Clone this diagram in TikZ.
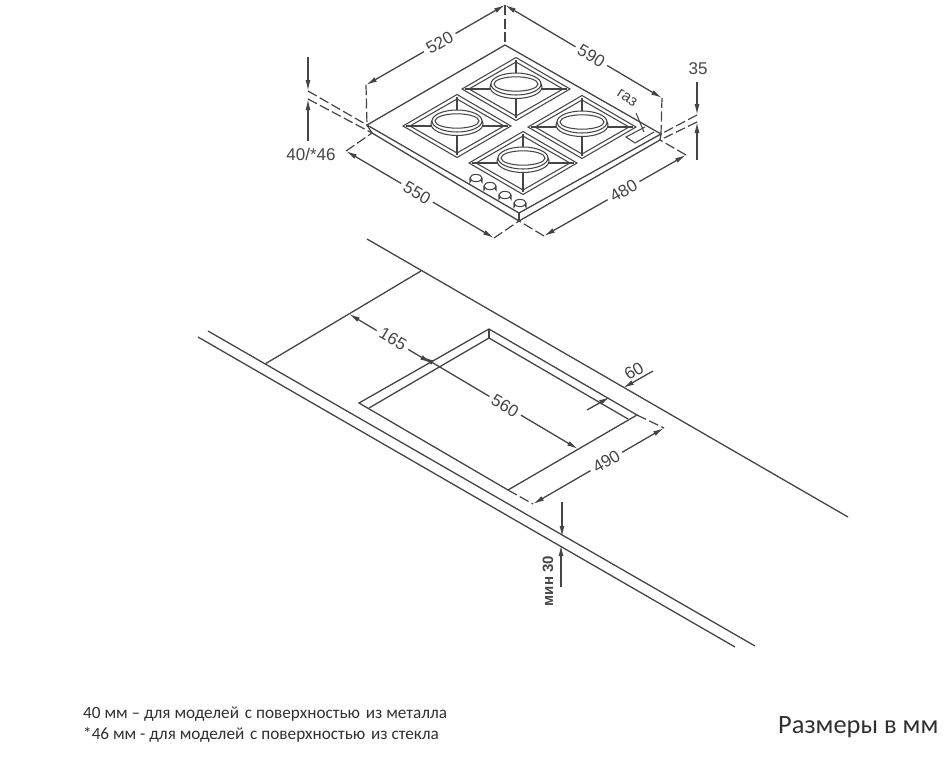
\documentclass[tikz,border=0pt]{standalone}
\usepackage{fontspec}
\setmainfont{Carlito}
\newfontfamily\arialf{Liberation Sans}
\usetikzlibrary{arrows.meta}
\definecolor{ink}{HTML}{454545}
\tikzset{
  line/.style={draw=ink,line width=1.3pt},
  thin line/.style={draw=ink,line width=1.05pt},
  dashline/.style={draw=ink,line width=1.2pt,dash pattern=on 10pt off 3.5pt},
  tipa/.tip={Latex[length=11pt,width=5pt]},
  dimboth/.style={line,tipa-tipa},
  dimend/.style={line,-tipa},
  lab/.style={text=ink,font=\arialf\fontsize{17}{17}\selectfont,inner sep=4pt,fill=white},
  bare/.style={text=ink,font=\arialf\fontsize{17}{17}\selectfont,inner sep=1pt},
  burner/.pic={
    \draw[thin line] (-54,0)--(0,-31.5)--(54,0)--(0,31.5)--cycle;
    \draw[thin line] (-47,0)--(0,-27)--(47,0)--(0,27)--cycle;
    \draw[thin line] (-51,0)--(51,0) (0,-29)--(0,29);
    \draw[thin line,fill=white] (0,-2) ellipse [x radius=26,y radius=11.5];
    \draw[thin line,fill=white] (0,-5) ellipse [x radius=25,y radius=11];
    \draw[thin line,fill=white] (0,-5) ellipse [x radius=22,y radius=7.2];
  },
  knob/.pic={
    \draw[thin line,fill=white] (-6,-2) -- (-6,2) arc[start angle=180,end angle=360,x radius=6,y radius=3.6] -- (6,-2);
    \draw[thin line,fill=white] (0,-2) ellipse [x radius=6,y radius=3.6];
  }
}
\begin{document}
\begin{tikzpicture}[x=1pt,y=-1pt]
\useasboundingbox (0,0) rectangle (950,779);
% hob corners
\coordinate (hT) at (505,45);
\coordinate (hL) at (367,125);
\coordinate (hR) at (661,134);
\coordinate (hB) at (519,213);
\coordinate (hLl) at (372,133);
\coordinate (hBl) at (519,221);
\coordinate (hRl) at (660,140);
% burners
\pic at (457,126) {burner};
\pic at (516,89) {burner};
\pic at (582,127) {burner};
\pic at (523,163) {burner};
% knobs
\pic at (476,180) {knob};
\pic at (490,188) {knob};
\pic at (505,197) {knob};
\pic at (520,205) {knob};
% hob outline
\draw[line] (hL)--(hT)--(hR)--(hB)--cycle;
\draw[line] (hL)--(hLl)--(hBl)--(hRl)--(hR);
\draw[line] (hB)--(hBl);
% gas socket
\coordinate (g1) at (645,127);
\coordinate (g2) at (626,137);
\coordinate (g3) at (635,143);
\coordinate (g4) at (654,132);
\draw[thin line] (g1)--(g2)--(g3)--(g4);
\coordinate (gl1) at (636,113);
\coordinate (gl2) at (644,132);
\draw[thin line] (gl1)--(gl2);
\node[bare,rotate=-33,font=\arialf\fontsize{15.5}{15.5}\selectfont] (gaz) at (627,98) {газ};
% dimension points
\coordinate (d520a) at (366,85);
\coordinate (dtop) at (505,5);
\coordinate (d590b) at (662,98);
\coordinate (d550a) at (346,151);
\coordinate (d550b) at (494,238);
\coordinate (d480a) at (544,236);
\coordinate (d480b) at (686,155);
\draw[dashline] (d520a)--(hL);
\draw[dashline] (dtop)--(hT);
\draw[dashline] (d590b)--(hR);
\draw[dashline] (d550a)--(hLl);
\draw[dashline] (d550b)--(hBl);
\draw[dashline] (d480a)--(hBl);
\draw[dashline] (d480b)--(hRl);
\draw[dimboth] (d520a)--(dtop) node[lab,sloped,pos=.53] {520};
\draw[dimboth] (dtop)--(d590b) node[lab,sloped,pos=.55] {590};
\draw[dimboth] (d550a)--(d550b) node[lab,sloped,pos=.48] {550};
\draw[dimboth] (d480a)--(d480b) node[lab,sloped,pos=.56] {480};
% left thickness 40/46
\coordinate (ta) at (308,57);
\coordinate (tb) at (308,91);
\coordinate (tc) at (308,99);
\coordinate (td) at (308,141);
\draw[dimend] (ta)--(tb);
\draw[dimend] (td)--(tc);
\draw[dashline] (tb)--(hL);
\draw[dashline] (tc)--(hLl);
\node[bare] (t40) at (311,154) {40/*46};
% right thickness 35
\coordinate (ra) at (697,82);
\coordinate (rb) at (697,115);
\coordinate (rc) at (697,122);
\coordinate (rd) at (697,160);
\draw[dimend] (ra)--(rb);
\draw[dimend] (rd)--(rc);
\draw[dashline] (rb)--(hR);
\draw[dashline] (rc)--(hRl);
\node[bare] (t35) at (698,69) {35};
% worktop
\coordinate (wa) at (367,239);
\coordinate (wb) at (848,517);
\coordinate (fa) at (208,331);
\coordinate (fb) at (755,646);
\coordinate (ga) at (198,337);
\coordinate (gb) at (735,647);
\coordinate (ca) at (265,364);
\coordinate (cb) at (421,271);
\draw[line] (wa)--(wb);
\draw[line] (fa)--(fb);
\draw[line] (ga)--(gb);
\draw[line] (ca)--(cb);
% cutout
\coordinate (oT) at (489,329);
\coordinate (oL) at (359,403);
\coordinate (oR) at (637,415);
\coordinate (oB) at (508,490);
\coordinate (iT) at (489,338);
\coordinate (iL) at (369,408);
\coordinate (iR) at (628,419);
\draw[line] (oL)--(oT)--(oR)--(oB)--cycle;
\draw[line] (iL)--(iT)--(iR);
\draw[thin line] (oT)--(iT);
% cutout dims
\coordinate (d165a) at (349,314);
\coordinate (d165b) at (431,363);
\coordinate (d560a) at (423,357);
\coordinate (d560b) at (578,449);
\draw[dimboth] (d165a)--(d165b) node[lab,sloped,pos=.53,yshift=1pt] {165};
\draw[dimboth] (d560a)--(d560b) node[lab,sloped,pos=.53] {560};
\coordinate (d490a) at (533,504);
\coordinate (d490b) at (664,428);
\draw[dashline] (oB)--(d490a);
\draw[dashline] (oR)--(d490b);
\draw[dimboth] (d490a)--(d490b) node[lab,sloped,pos=.56] {490};
\coordinate (s1) at (653,371);
\coordinate (s2) at (623,388);
\coordinate (s3) at (587,410);
\coordinate (s4) at (610,397);
\draw[dimend] (s1)--(s2);
\draw[dimend] (s3)--(s4);
\node[bare,rotate=30] (t60) at (634,371) {60};
% min 30
\coordinate (m1) at (562,502);
\coordinate (m2) at (562,537);
\coordinate (m3) at (561,587);
\coordinate (m4) at (561,545);
\draw[dimend] (m1)--(m2);
\draw[dimend] (m3)--(m4);
\node[text=ink,rotate=90,inner sep=0pt,font=\arialf\bfseries\fontsize{15}{15}\selectfont] (tm) at (548,581) {мин 30};
% notes
\node[anchor=west,inner sep=0pt,text=ink!70!black,font=\fontsize{17.2}{17.2}\selectfont] (n1) at (83,714) {40 мм – для моделей\hspace{2pt} с поверхностью\hspace{2pt} из металла};
\node[anchor=west,inner sep=0pt,text=ink!70!black,font=\fontsize{17.2}{17.2}\selectfont] (n2) at (83,735) {*46 мм - для моделей\hspace{2pt} с поверхностью\hspace{2pt} из стекла};
\node[anchor=west,inner sep=0pt,text=ink!70!black,font=\fontsize{26.4}{26.4}\selectfont] (n3) at (778,727) {Размеры в мм};
\end{tikzpicture}
\end{document}
